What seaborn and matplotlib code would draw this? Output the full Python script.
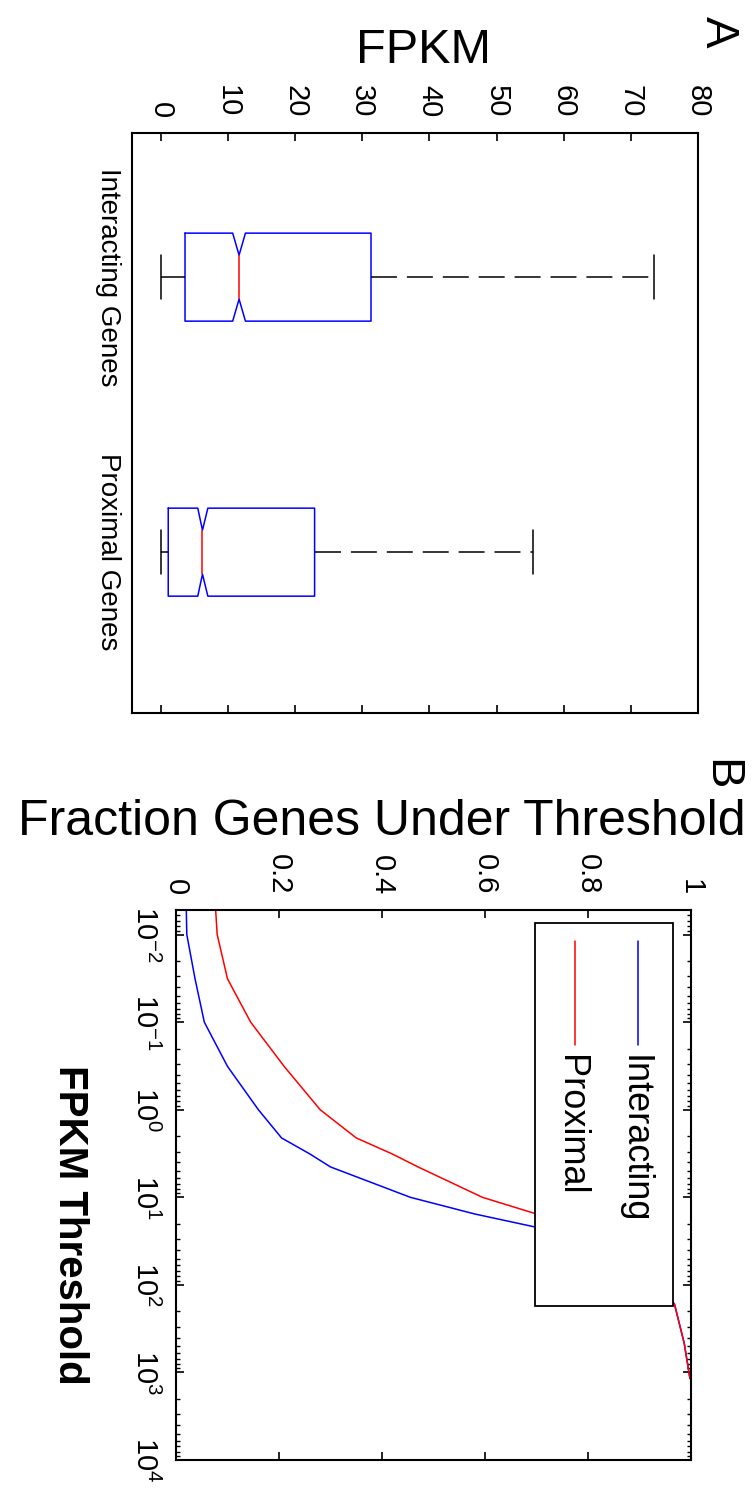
import pandas as pd
import matplotlib
matplotlib.use("Agg")
import matplotlib.pyplot as plt
import seaborn as sns
from matplotlib.patches import Rectangle
from matplotlib.ticker import LogLocator

# ---- panel A: five-number summaries (min, q1, median, q3, max)
groups = ["Interacting Genes", "Proximal Genes"]
interacting_fpkm = [0.0, 3.6, 11.65, 31.3, 73.4]
proximal_fpkm = [0.0, 1.1, 6.2, 22.9, 55.4]
notch_lo = [10.7, 5.5]
notch_hi = [12.6, 7.0]
fpkm_ticks = [0, 10, 20, 30, 40, 50, 60, 70, 80]

# ---- panel B: fraction of genes under each FPKM threshold
thresholds = [0.0052, 0.01, 0.032, 0.1, 0.32, 1, 2.1, 3.2, 4.5, 10, 15.5, 22,
              32, 100, 166, 468, 1175]
interacting_frac = [0.02, 0.021, 0.037, 0.055, 0.10, 0.16, 0.205, 0.26, 0.30,
                    0.455, 0.58, 0.70, 0.78, 0.93, 0.968, 0.987, 0.998]
proximal_frac = [0.077, 0.08, 0.10, 0.145, 0.21, 0.28, 0.35, 0.42, 0.47,
                 0.595, 0.70, 0.76, 0.81, 0.94, 0.968, 0.987, 0.998]
frac_ticks = [0, 0.2, 0.4, 0.6, 0.8, 1]
frac_labels = ["0", "0.2", "0.4", "0.6", "0.8", "1"]
threshold_ticks = [1e-2, 1e-1, 1e0, 1e1, 1e2, 1e3, 1e4]

sns.set_style("white")
plt.rcParams["font.family"] = ["Liberation Sans", "DejaVu Sans"]
plt.rcParams["mathtext.fontset"] = "custom"
plt.rcParams["mathtext.rm"] = "Liberation Sans"
plt.rcParams["mathtext.it"] = "Liberation Sans"
plt.rcParams["axes.linewidth"] = 1.5
plt.rcParams["axes.edgecolor"] = "black"
for key in ["text.color", "axes.labelcolor", "xtick.color", "ytick.color"]:
    plt.rcParams[key] = "black"

fig = plt.figure(figsize=(7.55, 14.88), dpi=100)
ax_a = fig.add_axes([0.1748, 0.5208, 0.7497, 0.3898])
ax_b = fig.add_axes([0.2331, 0.0188, 0.6821, 0.3696])

# ---------------- panel A
box_df = pd.DataFrame({
    "group": [groups[0]] * len(interacting_fpkm) + [groups[1]] * len(proximal_fpkm),
    "FPKM": interacting_fpkm + proximal_fpkm,
})
box_width = 0.32
sns.boxplot(data=box_df, x="FPKM", y="group", orient="h", ax=ax_a,
            whis=(0, 100), notch=True, fill=False, width=box_width,
            color="blue", linewidth=1.1,
            medianprops={"color": "red", "linewidth": 1.1},
            whiskerprops={"color": "black", "linewidth": 1.1,
                          "linestyle": (0, (17, 6.5))},
            capprops={"color": "black", "linewidth": 1.1})

# matlab style notches from the read confidence limits
summaries = [interacting_fpkm, proximal_fpkm]
cont = ax_a.containers[0]
h = box_width / 2
for i, box in enumerate(cont.boxes):
    q1, med, q3 = summaries[i][1], summaries[i][2], summaries[i][3]
    lo, hi = notch_lo[i], notch_hi[i]
    v = [q1, lo, med, hi, q3, q3, hi, med, lo, q1, q1]
    p = [i - h, i - h, i - h * 0.5, i - h, i - h, i + h, i + h, i + h * 0.5, i + h, i + h, i - h]
    box.set_data(v, p)

ax_a.set_xlim(-4.3, 80)
ax_a.set_ylim(1.585, -0.524)
ax_a.set_xticks(fpkm_ticks)
ax_a.tick_params(axis="x", direction="in", top=True, bottom=True,
                 labeltop=True, labelbottom=False, length=6, width=1.2,
                 pad=11, labelsize=21, labelrotation=-90)
ax_a.tick_params(axis="y", length=0, pad=8, labelsize=20, labelrotation=-90)
for lab in ax_a.get_yticklabels():
    lab.set_va("center")
ax_a.set_ylabel("")
ax_a.xaxis.set_label_position("top")
ax_a.set_xlabel("FPKM", fontsize=35)
ax_a.xaxis.set_label_coords(0.515, 1.143)
ax_a.xaxis.label.set_va("center")
for s in ax_a.spines.values():
    s.set_visible(True)

# ---------------- panel B
cdf_df = pd.DataFrame({
    "threshold": thresholds + thresholds,
    "fraction": interacting_frac + proximal_frac,
    "set": ["Interacting"] * len(thresholds) + ["Proximal"] * len(thresholds),
})
sns.lineplot(data=cdf_df, x="fraction", y="threshold", hue="set",
             palette={"Interacting": "blue", "Proximal": "red"},
             sort=False, estimator=None, linewidth=1.1, legend=False, ax=ax_b)
ax_b.set_yscale("log")
ax_b.set_yticks(threshold_ticks)
ax_b.yaxis.set_minor_locator(LogLocator(base=10, subs=range(2, 10), numticks=20))
ax_b.set_ylim(1e4, 10 ** -2.28)
ax_b.set_xlim(0, 1)
ax_b.set_xticks(frac_ticks)
ax_b.set_xticklabels(frac_labels)
ax_b.tick_params(axis="x", direction="in", top=True, bottom=True,
                 labeltop=True, labelbottom=False, length=6, width=1.2,
                 pad=11, labelsize=21, labelrotation=-90)
ax_b.tick_params(axis="y", which="major", direction="in", left=True, right=True,
                 length=6, width=1.2, pad=12, labelsize=21, labelrotation=-90)
ax_b.tick_params(axis="y", which="minor", direction="in", left=True, right=True,
                 length=3, width=1.0, labelleft=False)
for lab in ax_b.get_yticklabels():
    lab.set_va("center")
ax_b.xaxis.set_label_position("top")
ax_b.set_xlabel("Fraction Genes Under Threshold", fontsize=36)
ax_b.xaxis.set_label_coords(0.40, 1.16)
ax_b.xaxis.label.set_va("center")
ax_b.set_ylabel("FPKM Threshold", fontsize=29, fontweight="bold", rotation=-90)
ax_b.yaxis.set_label_coords(-0.205, 0.427)
ax_b.yaxis.label.set_va("center")
for s in ax_b.spines.values():
    s.set_visible(True)

# legend, drawn rotated like the rest of the page
ax_b.add_patch(Rectangle((0.698, 0.28), 0.267, 0.696, transform=ax_b.transAxes,
                         facecolor="white", edgecolor="black", lw=1.3, zorder=5))
for name, color, xc in [("Interacting", "blue", 0.898), ("Proximal", "red", 0.775)]:
    ax_b.plot([xc, xc], [0.943, 0.755], transform=ax_b.transAxes,
              color=color, lw=1.1, zorder=6)
    ax_b.text(xc - 0.008, 0.736, name, transform=ax_b.transAxes, rotation=-90,
              ha="center", va="top", fontsize=26, zorder=6)

fig.text(0.951, 0.9785, "A", rotation=-90, fontsize=34, ha="center", va="center")
fig.text(0.954, 0.4795, "B", rotation=-90, fontsize=34, ha="center", va="center")

fig.savefig("out.png", dpi=100)
